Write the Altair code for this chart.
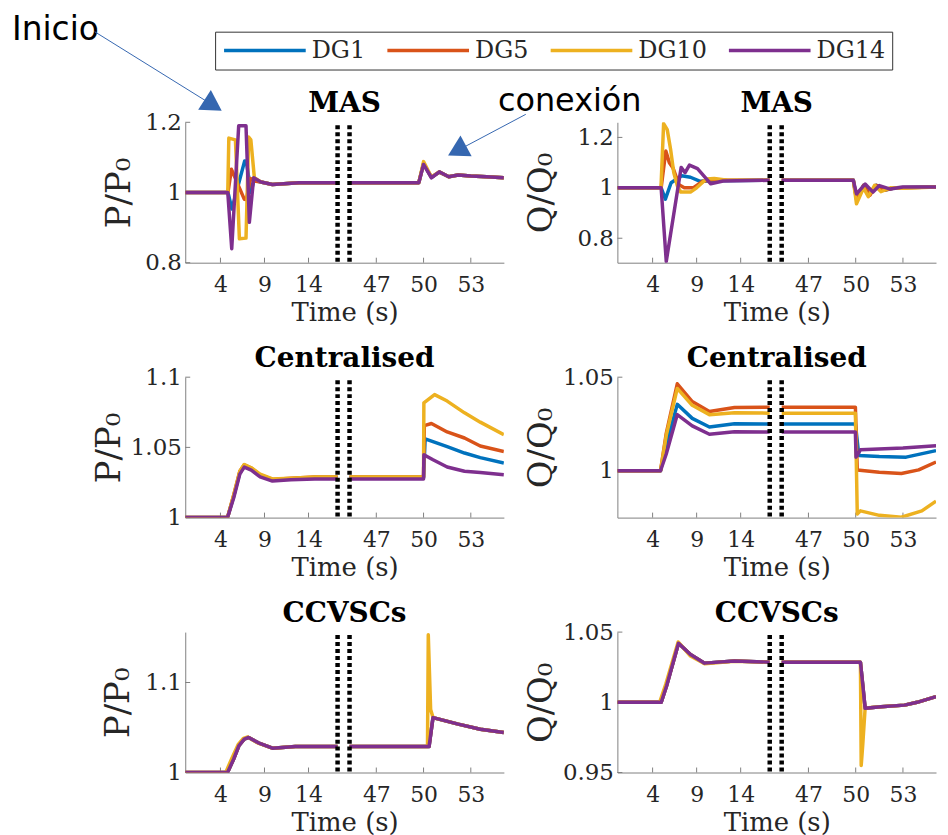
import altair as alt
import pandas as pd

# ---------------- text / categories ----------------
SERIES = ["DG1", "DG5", "DG10", "DG14"]
COLORS = ["#0072BD", "#D95319", "#EDB120", "#7E2F8E"]
PANEL_TITLES = ["MAS", "Centralised", "CCVSCs"]
Y_TITLE_P = "P/P₀"
Y_TITLE_Q = "Q/Q₀"
X_TITLE = "Time (s)"
X_TICKS = [4, 9, 14, 47, 50, 53]
X_BREAKS = [17.3, 45.3]
X_DOMAIN = [0, 17.3, 45.3, 55.1]
ANNOT_TEXT = ["Inicio", "conexión"]

MAS_P_YDOM = [0.8, 1.2]
MAS_P_YTICKS = [0.8, 1, 1.2]
MAS_Q_YDOM = [0.703, 1.26]
MAS_Q_YTICKS = [0.8, 1, 1.2]
CEN_P_YDOM = [1.0, 1.1]
CEN_P_YTICKS = [1, 1.05, 1.1]
CEN_Q_YDOM = [0.975, 1.05]
CEN_Q_YTICKS = [1, 1.05]
CCV_P_YDOM = [1.0, 1.156]
CCV_P_YTICKS = [1, 1.1]
CCV_Q_YDOM = [0.95, 1.05]
CCV_Q_YTICKS = [0.95, 1, 1.05]

# ---------------- MAS, P/P0 ----------------
mas_p_dg1_t = [0, 4.85, 5.3, 6.75, 6.95, 7.45, 7.8, 8.6, 9.9, 12.9, 17.3, 45.3, 49.7, 50.0, 50.5, 51.0, 51.6, 52.2, 53.0, 54.0, 55.1]
mas_p_dg1_v = [1.0, 1.0, 0.953, 1.09, 1.088, 1.0, 1.035, 1.03, 1.023, 1.028, 1.028, 1.028, 1.028, 1.082, 1.043, 1.058, 1.045, 1.05, 1.047, 1.045, 1.042]
mas_p_dg5_t = [0, 4.85, 5.25, 6.7, 6.95, 7.4, 7.8, 8.6, 9.9, 12.9, 17.3, 45.3, 49.7, 50.0, 50.5, 51.0, 51.6, 52.2, 53.0, 54.0, 55.1]
mas_p_dg5_v = [1.0, 1.0, 1.066, 0.981, 0.98, 1.04, 1.033, 1.03, 1.023, 1.028, 1.028, 1.028, 1.028, 1.082, 1.043, 1.058, 1.045, 1.05, 1.047, 1.045, 1.042]
mas_p_dg10_t = [0, 4.83, 4.95, 5.7, 6.15, 6.9, 7.2, 7.45, 7.85, 8.6, 9.9, 12.9, 17.3, 45.3, 49.7, 50.0, 50.5, 51.0, 51.6, 52.2, 53.0, 54.0, 55.1]
mas_p_dg10_v = [1.0, 1.0, 1.155, 1.15, 0.868, 0.87, 1.158, 1.15, 1.042, 1.03, 1.023, 1.028, 1.028, 1.028, 1.028, 1.088, 1.044, 1.059, 1.045, 1.05, 1.047, 1.045, 1.042]
mas_p_dg14_t = [0, 4.83, 5.28, 6.07, 6.9, 7.28, 7.77, 8.6, 9.9, 12.9, 17.3, 45.3, 49.7, 50.0, 50.5, 51.0, 51.6, 52.2, 53.0, 54.0, 55.1]
mas_p_dg14_v = [1.0, 1.0, 0.84, 1.19, 1.19, 0.915, 1.042, 1.03, 1.023, 1.028, 1.028, 1.028, 1.028, 1.08, 1.042, 1.059, 1.045, 1.05, 1.047, 1.045, 1.042]

# ---------------- MAS, Q/Q0 ----------------
mas_q_dg1_t = [0, 4.97, 5.45, 6.1, 7.3, 8.3, 9.4, 11.0, 17.3, 45.3, 49.85, 50.05, 50.5, 50.9, 51.3, 51.8, 52.5, 55.1]
mas_q_dg1_v = [1.0, 1.0, 0.955, 1.02, 1.048, 1.042, 1.026, 1.028, 1.03, 1.03, 1.03, 0.96, 1.01, 0.975, 1.01, 0.99, 1.0, 1.003]
mas_q_dg5_t = [0, 4.97, 5.5, 5.9, 6.3, 7.0, 7.6, 8.6, 9.7, 10.9, 12.5, 17.3, 45.3, 49.85, 50.05, 50.5, 50.9, 51.3, 51.8, 52.5, 55.1]
mas_q_dg5_v = [1.0, 1.0, 1.146, 1.1, 1.08, 1.012, 1.0, 1.0, 1.026, 1.033, 1.03, 1.03, 1.03, 1.03, 0.955, 1.01, 0.97, 1.01, 0.99, 1.0, 1.003]
mas_q_dg10_t = [0, 4.95, 5.25, 5.66, 6.04, 6.4, 6.8, 7.2, 8.3, 9.0, 10.1, 11.0, 12.5, 17.3, 45.3, 49.85, 50.05, 50.5, 50.8, 51.2, 51.6, 52.2, 53.0, 55.1]
mas_q_dg10_v = [1.0, 1.0, 1.255, 1.231, 1.153, 1.061, 1.009, 0.983, 0.983, 1.0, 1.035, 1.037, 1.03, 1.03, 1.03, 1.03, 0.937, 1.0, 0.965, 1.01, 0.985, 1.0, 0.998, 1.003]
mas_q_dg14_t = [0, 4.97, 5.55, 7.24, 7.69, 8.18, 9.1, 10.6, 12.0, 17.3, 45.3, 49.85, 50.05, 50.6, 51.1, 51.5, 52.2, 53.0, 55.1]
mas_q_dg14_v = [1.0, 1.0, 0.708, 1.081, 1.06, 1.09, 1.076, 1.016, 1.027, 1.03, 1.03, 1.03, 0.976, 1.015, 0.983, 1.009, 0.995, 1.003, 1.003]

# ---------------- Centralised, P/P0 ----------------
cen_p_dg1_t = [0, 4.8, 5.5, 6.2, 6.7, 7.5, 8.5, 9.9, 12.0, 14.7, 17.3, 45.3, 50.0, 50.1, 51.5, 52.6, 53.6, 55.1]
cen_p_dg1_v = [1.0, 1.0, 1.015, 1.032, 1.0368, 1.0345, 1.03, 1.0268, 1.0275, 1.0285, 1.0285, 1.0285, 1.0285, 1.056, 1.0505, 1.046, 1.0427, 1.0389]
cen_p_dg5_t = [0, 4.8, 5.5, 6.2, 6.7, 7.5, 8.5, 9.9, 12.0, 14.7, 17.3, 45.3, 50.0, 50.05, 50.5, 51.5, 52.6, 53.6, 55.1]
cen_p_dg5_v = [1.0, 1.0, 1.016, 1.033, 1.0376, 1.0352, 1.0305, 1.0272, 1.028, 1.029, 1.029, 1.029, 1.029, 1.0655, 1.067, 1.061, 1.0567, 1.051, 1.047]
cen_p_dg10_t = [0, 4.8, 5.5, 6.2, 6.7, 7.5, 8.5, 9.9, 12.0, 14.7, 17.3, 45.3, 50.0, 50.02, 50.7, 51.5, 52.6, 53.6, 55.1]
cen_p_dg10_v = [1.0, 1.0, 1.016, 1.033, 1.0378, 1.0355, 1.031, 1.0275, 1.028, 1.029, 1.029, 1.029, 1.029, 1.0817, 1.0876, 1.083, 1.0746, 1.068, 1.059]
cen_p_dg14_t = [0, 4.8, 5.5, 6.2, 6.7, 7.5, 8.5, 9.9, 12.0, 14.7, 17.3, 45.3, 50.0, 50.02, 50.6, 51.5, 52.6, 53.6, 55.1]
cen_p_dg14_v = [1.0, 1.0, 1.014, 1.031, 1.036, 1.0338, 1.029, 1.026, 1.027, 1.0275, 1.0275, 1.0275, 1.0275, 1.0448, 1.0412, 1.036, 1.033, 1.0321, 1.0305]

# ---------------- Centralised, Q/Q0 ----------------
cen_q_dg1_t = [0, 4.9, 5.55, 6.8, 8.5, 10.45, 13.3, 17.3, 45.3, 49.98, 50.2, 51.5, 53.2, 55.1]
cen_q_dg1_v = [1.0, 1.0, 1.014, 1.0355, 1.028, 1.0234, 1.0251, 1.025, 1.025, 1.025, 1.0082, 1.0076, 1.0073, 1.0108]
cen_q_dg5_t = [0, 4.9, 5.55, 6.8, 8.5, 10.45, 13.3, 17.3, 45.3, 49.98, 50.1, 51.5, 52.9, 54.0, 55.1]
cen_q_dg5_v = [1.0, 1.0, 1.02, 1.0465, 1.037, 1.0317, 1.0338, 1.034, 1.034, 1.034, 1.0004, 0.9992, 0.9986, 1.0005, 1.0047]
cen_q_dg10_t = [0, 4.9, 5.55, 6.8, 8.5, 10.45, 13.3, 17.3, 45.3, 49.98, 50.1, 50.3, 51.5, 52.9, 54.2, 55.1]
cen_q_dg10_v = [1.0, 1.0, 1.019, 1.044, 1.035, 1.03, 1.031, 1.0308, 1.0308, 1.0308, 0.9769, 0.9786, 0.9762, 0.9752, 0.9786, 0.9838]
cen_q_dg14_t = [0, 4.9, 5.55, 6.8, 8.5, 10.45, 13.3, 17.3, 45.3, 49.98, 50.02, 50.3, 53.0, 55.1]
cen_q_dg14_v = [1.0, 1.0, 1.009, 1.03, 1.024, 1.0195, 1.0209, 1.0207, 1.0207, 1.0207, 1.0073, 1.0112, 1.0122, 1.0134]

# ---------------- CCVSCs, P/P0 ----------------
ccv_p_dg14_t = [0, 4.8, 5.5, 6.1, 6.7, 7.2, 8.3, 9.9, 12.5, 17.3, 45.3, 50.35, 50.6, 52.2, 53.6, 55.1]
ccv_p_dg14_v = [1.0, 1.0, 1.015, 1.03, 1.037, 1.039, 1.033, 1.027, 1.029, 1.029, 1.029, 1.029, 1.061, 1.0537, 1.048, 1.0444]
ccv_p_dg1_t = ccv_p_dg14_t
ccv_p_dg1_v = ccv_p_dg14_v
ccv_p_dg5_t = ccv_p_dg14_t
ccv_p_dg5_v = ccv_p_dg14_v
ccv_p_dg10_t = [0, 4.6, 5.3, 6.0, 6.6, 7.1, 8.2, 9.9, 12.5, 17.3, 45.3, 50.25, 50.3, 50.45, 50.6, 52.2, 53.6, 55.1]
ccv_p_dg10_v = [1.0, 1.0, 1.016, 1.031, 1.038, 1.0395, 1.033, 1.027, 1.029, 1.029, 1.029, 1.029, 1.153, 1.07, 1.061, 1.0537, 1.048, 1.0444]

# ---------------- CCVSCs, Q/Q0 ----------------
ccv_q_dg14_t = [0, 4.98, 5.6, 6.94, 8.3, 9.9, 13.3, 17.3, 45.3, 50.3, 50.6, 51.6, 53.1, 53.9, 55.1]
ccv_q_dg14_v = [1.0, 1.0, 1.012, 1.042, 1.034, 1.0279, 1.0295, 1.0286, 1.0286, 1.0286, 0.9957, 0.9969, 0.998, 1.0, 1.004]
ccv_q_dg1_t = ccv_q_dg14_t
ccv_q_dg1_v = ccv_q_dg14_v
ccv_q_dg5_t = ccv_q_dg14_t
ccv_q_dg5_v = ccv_q_dg14_v
ccv_q_dg10_t = [0, 4.8, 5.5, 6.9, 8.3, 9.9, 13.3, 17.3, 45.3, 50.3, 50.35, 50.45, 50.6, 51.6, 53.1, 53.9, 55.1]
ccv_q_dg10_v = [1.0, 1.0, 1.013, 1.043, 1.033, 1.0275, 1.0293, 1.0286, 1.0286, 1.0286, 0.955, 0.97, 0.996, 0.9969, 0.998, 1.0, 1.004]

# ---------------- layout / style ----------------
W, H = 320, 141
X_RANGE = [0, 153, 165, W]
AXIS_GRAY = "#808080"
TEXT_GRAY = "#262626"
SERIF = "DejaVu Serif"
ANNOT_BLUE = "#3567B0"


def frame(t_lists, v_lists):
    rows = []
    for name, ts, vs in zip(SERIES, t_lists, v_lists):
        for t, v in zip(ts, vs):
            rows.append({"t": t, "v": v, "series": name, "seg": "pre" if t < 30 else "post"})
    return pd.DataFrame(rows)


LEGEND = alt.Legend(
    title=None, orient="none", legendX=30, legendY=-91, direction="horizontal",
    symbolType="stroke", symbolSize=6724, symbolStrokeWidth=3.5, clipHeight=24,
    labelFont=SERIF, labelFontSize=24, labelColor=TEXT_GRAY, labelOffset=4,
    columnPadding=20, padding=7, strokeColor="#333333", fillColor="white",
)


def panel(df, title, ytitle, ydom, yticks, ytitle_x, extra=()):
    xs = alt.Scale(domain=X_DOMAIN, range=X_RANGE, nice=False, zero=False)
    ys = alt.Scale(domain=ydom, nice=False, zero=False)
    xaxis = alt.Axis(values=X_TICKS, title=X_TITLE, titleX=W / 2, titleY=58,
                     titleBaseline="alphabetic", titleAlign="center", titleFontSize=26,
                     labelPadding=12, labelFontSize=22, labelFlush=False, labelOverlap=False,
                     labelExpr="'' + datum.value")
    yaxis = alt.Axis(values=yticks, title=ytitle, titleAngle=270, titleX=ytitle_x, titleY=H / 2,
                     titleBaseline="alphabetic", titleAlign="center", titleFontSize=34,
                     labelPadding=4, labelFontSize=23, labelFlush=False, labelOverlap=False,
                     labelExpr="'' + datum.value")
    X = alt.X("t:Q", scale=xs, axis=xaxis)
    Y = alt.Y("v:Q", scale=ys, axis=yaxis)

    xt = alt.Chart(pd.DataFrame({"t": X_TICKS})).mark_rule(color=AXIS_GRAY, strokeWidth=1).encode(
        x=X, y=alt.value(H), y2=alt.value(H - 5))
    yt = alt.Chart(pd.DataFrame({"v": yticks})).mark_rule(color=AXIS_GRAY, strokeWidth=1).encode(
        y=Y, x=alt.value(0), x2=alt.value(5))
    lines = alt.Chart(df).mark_line(strokeWidth=3.5, clip=True, strokeJoin="round").encode(
        x=X, y=Y,
        color=alt.Color("series:N", scale=alt.Scale(domain=SERIES, range=COLORS), legend=LEGEND),
        detail="seg:N",
    )
    brk = alt.Chart(pd.DataFrame({"t": X_BREAKS})).mark_rule(
        color="black", strokeWidth=4.5, strokeDash=[4, 3]).encode(
        x=X, y=alt.value(3), y2=alt.value(H))
    ttl = alt.Chart(pd.DataFrame({"label": [title]})).mark_text(
        font=SERIF, fontSize=28, fontWeight="bold", color="black",
        align="center", baseline="alphabetic").encode(
        text="label:N", x=alt.value(W / 2), y=alt.value(-10))
    return alt.layer(xt, yt, lines, brk, ttl, *extra).properties(width=W, height=H)


# ---------------- annotations (Inicio / conexión arrows), in top-left panel coords ----------------
one = pd.DataFrame({"k": [0]})
txt_inicio = alt.Chart(pd.DataFrame({"label": [ANNOT_TEXT[0]]})).mark_text(
    font="DejaVu Sans", fontSize=33, align="left", baseline="top", color="black").encode(
    text="label:N", x=alt.value(-174), y=alt.value(-109))
txt_conex = alt.Chart(pd.DataFrame({"label": [ANNOT_TEXT[1]]})).mark_text(
    font="DejaVu Sans", fontSize=32, align="left", baseline="alphabetic", color="black").encode(
    text="label:N", x=alt.value(314), y=alt.value(-11))
arr1_line = alt.Chart(one).mark_rule(color=ANNOT_BLUE, strokeWidth=1).encode(
    x=alt.value(-91), y=alt.value(-91), x2=alt.value(28), y2=alt.value(-17))
arr1_head = alt.Chart(one).mark_point(shape="triangle-up", filled=True, size=560, angle=122.5,
                                      color=ANNOT_BLUE, opacity=1).encode(
    x=alt.value(28), y=alt.value(-17))
arr2_line = alt.Chart(one).mark_rule(color=ANNOT_BLUE, strokeWidth=1).encode(
    x=alt.value(342), y=alt.value(-8), x2=alt.value(273), y2=alt.value(28.6))
arr2_head = alt.Chart(one).mark_point(shape="triangle-up", filled=True, size=560, angle=241.7,
                                      color=ANNOT_BLUE, opacity=1).encode(
    x=alt.value(273), y=alt.value(28.6))
ANNOTATIONS = (txt_inicio, txt_conex, arr1_line, arr1_head, arr2_line, arr2_head)

p11 = panel(frame([mas_p_dg1_t, mas_p_dg5_t, mas_p_dg10_t, mas_p_dg14_t],
                  [mas_p_dg1_v, mas_p_dg5_v, mas_p_dg10_v, mas_p_dg14_v]),
            PANEL_TITLES[0], Y_TITLE_P, MAS_P_YDOM, MAS_P_YTICKS, -56, ANNOTATIONS)
p12 = panel(frame([mas_q_dg1_t, mas_q_dg5_t, mas_q_dg10_t, mas_q_dg14_t],
                  [mas_q_dg1_v, mas_q_dg5_v, mas_q_dg10_v, mas_q_dg14_v]),
            PANEL_TITLES[0], Y_TITLE_Q, MAS_Q_YDOM, MAS_Q_YTICKS, -66.6)
p21 = panel(frame([cen_p_dg1_t, cen_p_dg5_t, cen_p_dg10_t, cen_p_dg14_t],
                  [cen_p_dg1_v, cen_p_dg5_v, cen_p_dg10_v, cen_p_dg14_v]),
            PANEL_TITLES[1], Y_TITLE_P, CEN_P_YDOM, CEN_P_YTICKS, -65.6)
p22 = panel(frame([cen_q_dg1_t, cen_q_dg5_t, cen_q_dg10_t, cen_q_dg14_t],
                  [cen_q_dg1_v, cen_q_dg5_v, cen_q_dg10_v, cen_q_dg14_v]),
            PANEL_TITLES[1], Y_TITLE_Q, CEN_Q_YDOM, CEN_Q_YTICKS, -66.6)
p31 = panel(frame([ccv_p_dg1_t, ccv_p_dg5_t, ccv_p_dg10_t, ccv_p_dg14_t],
                  [ccv_p_dg1_v, ccv_p_dg5_v, ccv_p_dg10_v, ccv_p_dg14_v]),
            PANEL_TITLES[2], Y_TITLE_P, CCV_P_YDOM, CCV_P_YTICKS, -56.6)
p32 = panel(frame([ccv_q_dg1_t, ccv_q_dg5_t, ccv_q_dg10_t, ccv_q_dg14_t],
                  [ccv_q_dg1_v, ccv_q_dg5_v, ccv_q_dg10_v, ccv_q_dg14_v]),
            PANEL_TITLES[2], Y_TITLE_Q, CCV_Q_YDOM, CCV_Q_YTICKS, -66.6)

chart = alt.concat(
    p11, p12, p21, p22, p31, p32, columns=2,
    spacing=alt.RowColnumber(row=115, column=114), bounds="flush",
).resolve_scale(
    x="independent", y="independent", color="shared"
).properties(
    padding={"left": 4, "top": 4, "right": 4, "bottom": 4}
).configure_view(stroke=None).configure_axis(
    grid=False, domainColor=AXIS_GRAY, domainWidth=1, ticks=False, tickSize=0,
    labelFont=SERIF, labelColor=TEXT_GRAY, titleFont=SERIF, titleColor=TEXT_GRAY,
    titleFontWeight="normal",
)

chart.save("out.html", embed_options={"renderer": "svg", "actions": False})
